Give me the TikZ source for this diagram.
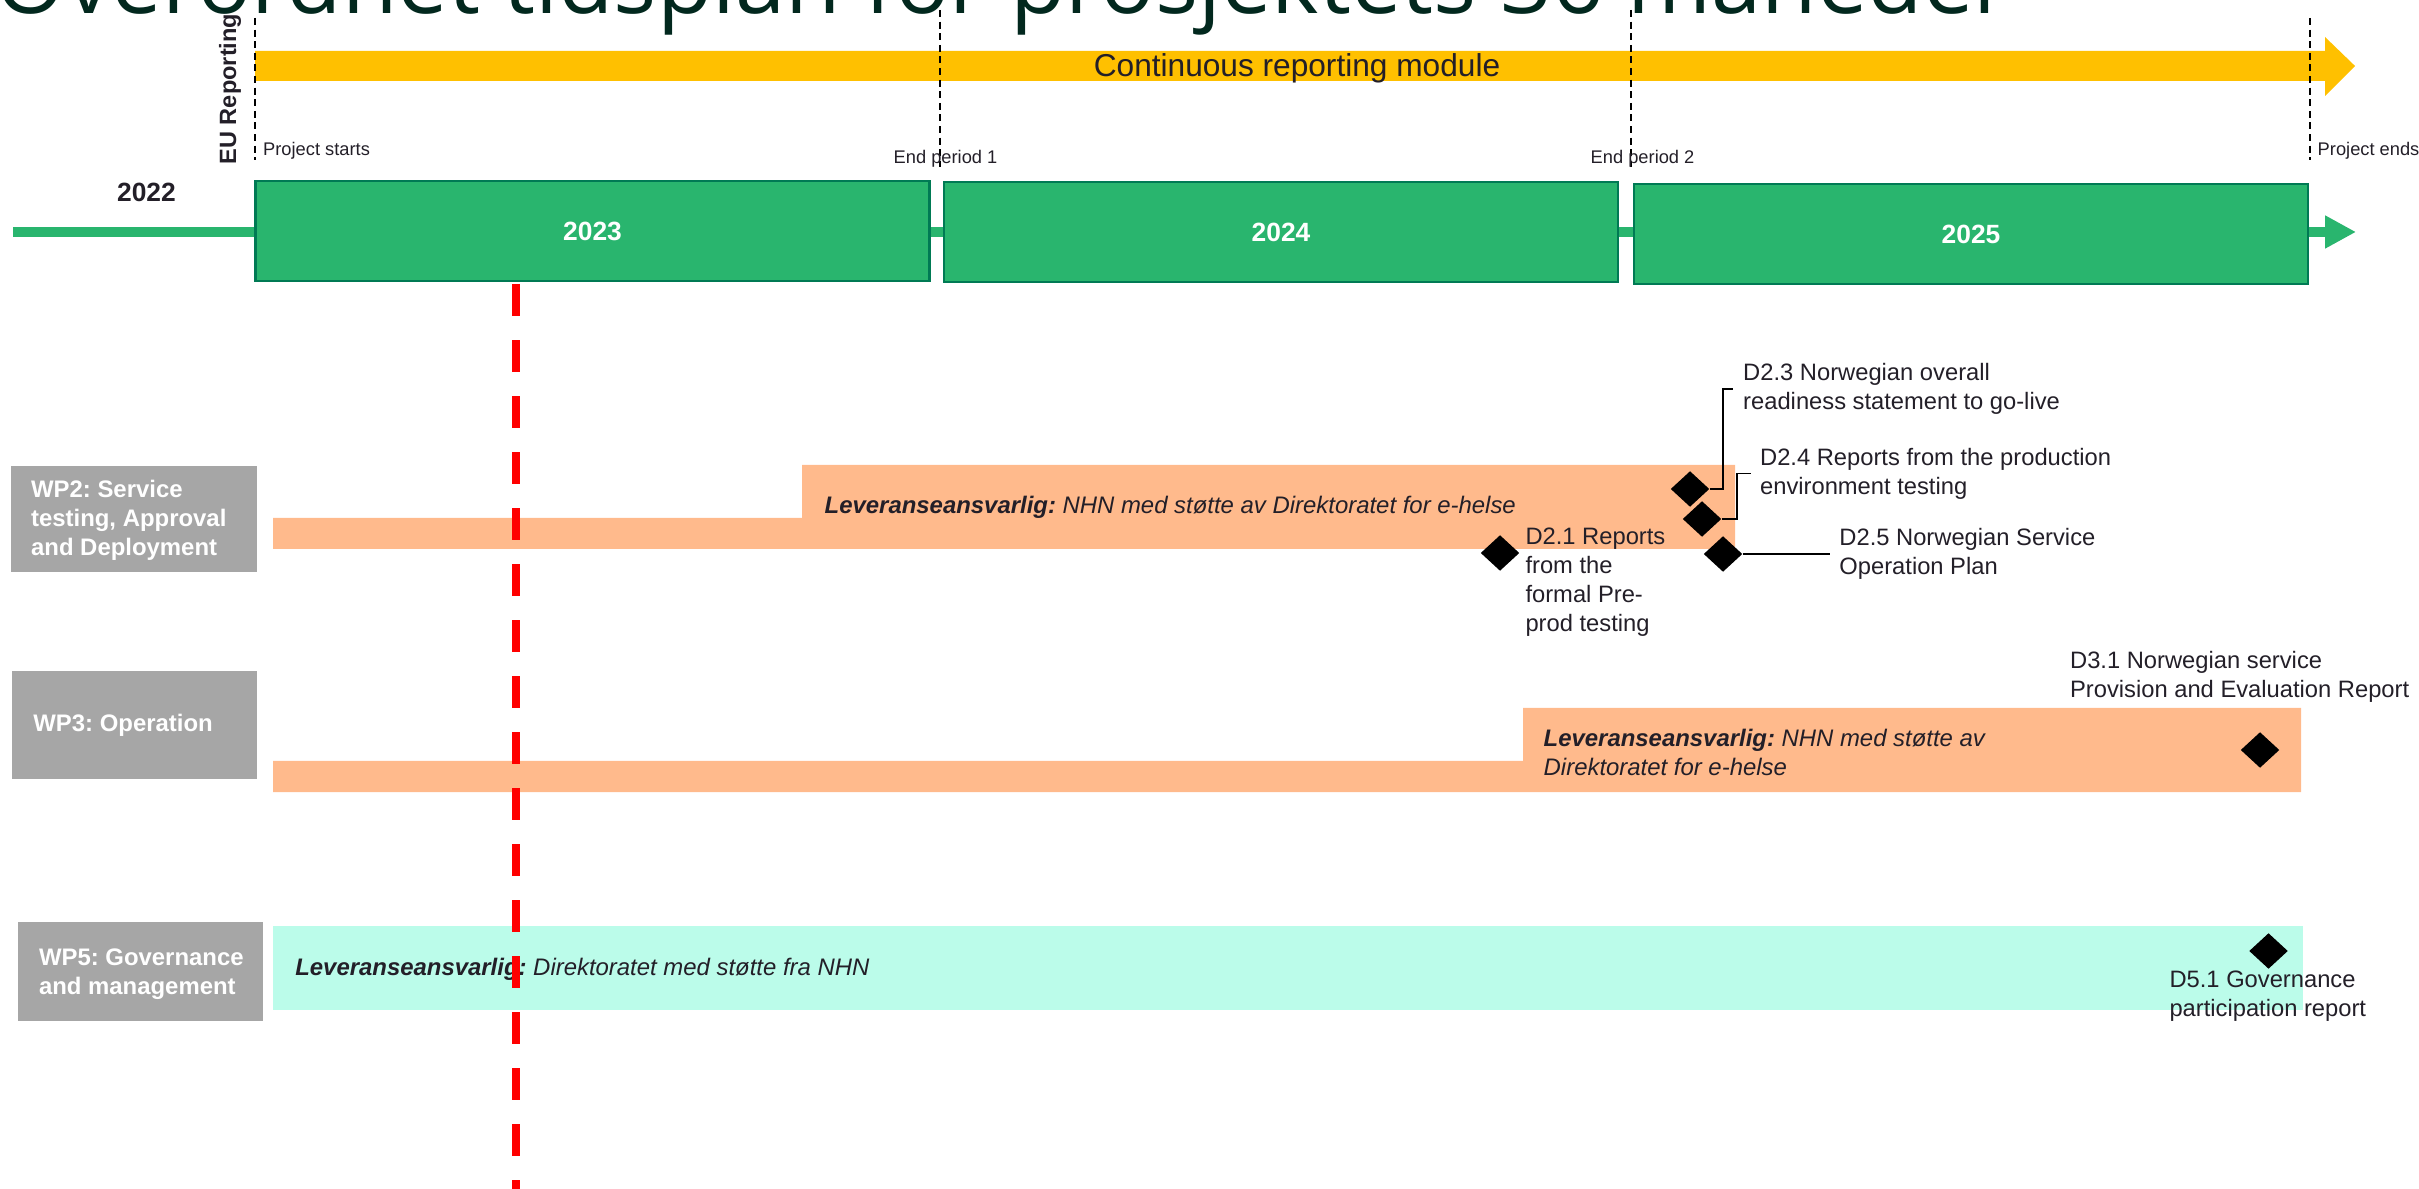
\documentclass[tikz,border=0pt]{standalone}
\usepackage{fontspec}
\setmainfont{Liberation Sans}
\newfontfamily\titlefont{Open Sans}
\usetikzlibrary{shapes.geometric,arrows.meta}
\definecolor{titlegreen}{RGB}{2,40,30}
\definecolor{txt}{RGB}{35,31,40}
\definecolor{yellowc}{RGB}{255,192,0}
\definecolor{greenfill}{RGB}{41,181,110}
\definecolor{greenborder}{RGB}{0,122,84}
\definecolor{wpgray}{RGB}{166,166,166}
\definecolor{orangebar}{RGB}{255,186,140}
\definecolor{cyanbar}{RGB}{187,252,234}
\definecolor{redline}{RGB}{255,0,0}
\frenchspacing
\begin{document}
\begin{tikzpicture}[x=0.01cm,y=-0.01cm,
  small/.style={inner sep=0, font=\fontsize{5.2}{6.2}\selectfont, text=txt, anchor=west},
  lbl/.style={inner sep=0, font=\fontsize{6.75}{8.25}\selectfont, text=txt, align=left, anchor=west},
  lev/.style={inner sep=0, font=\fontsize{6.8}{8.25}\selectfont\itshape, text=txt, align=left, anchor=west},
  wpbox/.style={fill=wpgray, inner sep=0, minimum width=2.45cm},
  wptext/.style={inner sep=0, font=\bfseries\fontsize{6.8}{8.25}\selectfont, text=white, align=left, anchor=west},
  yearbox/.style={draw=greenborder, line width=0.7pt, fill=greenfill, minimum width=6.74cm, minimum height=1.0cm, inner sep=0, text=white, font=\bfseries\fontsize{7.5}{9}\selectfont},
  milestone/.style={diamond, fill=black, inner sep=0, minimum width=0.39cm, minimum height=0.36cm},
  conn/.style={draw=black, line width=0.5pt},
  vdash/.style={draw=black, line width=0.45pt, dash pattern=on 2pt off 1.3pt},
  todayline/.style={draw=redline, line width=2.28pt, dash pattern=on 9.1pt off 6.83pt},
]
\clip (0,0) rectangle (2419,1189);

% title
\node[anchor=base west, inner sep=0, text=titlegreen, font=\titlefont\fontsize{25.7}{30}\selectfont] (title) at (-5,13.5) {Overordnet tidsplan for prosjektets 36 måneder};

% reporting arrow
\fill[yellowc] (255,51) -- (2325,51) -- (2325,37) -- (2355,66) -- (2325,96) -- (2325,81) -- (255,81) -- cycle;
\node[inner sep=0, text=txt, font=\fontsize{9}{11}\selectfont] (crm) at (1297,68) {Continuous reporting module};

% dashed period markers
\coordinate (ps1) at (255,18);   \coordinate (ps2) at (255,160);
\coordinate (e11) at (940,10);   \coordinate (e12) at (940,167);
\coordinate (e21) at (1631,10);  \coordinate (e22) at (1631,167);
\coordinate (pe1) at (2310,18);  \coordinate (pe2) at (2310,160);
\draw[vdash] (ps1) -- (ps2);
\draw[vdash] (e11) -- (e12);
\draw[vdash] (e21) -- (e22);
\draw[vdash] (pe1) -- (pe2);

\node[rotate=90, anchor=base west, inner sep=0, font=\bfseries\fontsize{6.7}{8}\selectfont, text=txt] (eu) at (236,165) {EU Reporting};
\node[small] (pstart) at (262.5,151) {Project starts};
\node[small] (ep1) at (893,158.5) {End period 1};
\node[small] (ep2) at (1590,158.5) {End period 2};
\node[small] (pend) at (2317,151) {Project ends};

% timeline
\coordinate (tlstart) at (13,232);
\coordinate (tlend) at (2356,232);
\draw[greenfill, line width=2.85pt, -{Triangle[length=3.1mm,width=3.1mm]}] (tlstart) -- (tlend);
\node[font=\bfseries\fontsize{7.5}{9}\selectfont, text=txt, inner sep=0] (y2022) at (146.5,192) {2022};
\node[yearbox] (y2023) at (592.5,231) {2023};
\node[yearbox] (y2024) at (1281,232) {2024};
\node[yearbox] (y2025) at (1971,234) {2025};

% WP2
\node[wpbox, minimum height=1.06cm] (wp2) at (134,519) {};
\node[wptext] (wp2t) at (30.4,520) {WP2: Service\\testing, Approval\\and Deployment};
\fill[orangebar] (273,518) -- (802,518) -- (802,465) -- (1735,465) -- (1735,549) -- (273,549) -- cycle;
\node[lev] (lev2) at (824,507.5) {\textbf{Leveranseansvarlig:} NHN med støtte av Direktoratet for e-helse};

% WP3
\node[wpbox, minimum height=1.08cm] (wp3) at (134.5,725) {};
\node[wptext] (wp3t) at (32.7,725) {WP3: Operation};
\fill[orangebar] (273,761) -- (1523,761) -- (1523,708) -- (2301,708) -- (2301,792) -- (273,792) -- cycle;
\node[lev] (lev3) at (1543,752) {\textbf{Leveranseansvarlig:} NHN med støtte av\\Direktoratet for e-helse};

% WP5
\node[wpbox, minimum height=0.99cm] (wp5) at (140.5,971.5) {};
\node[wptext] (wp5t) at (38.3,974) {WP5: Governance\\and management};
\fill[cyanbar] (273,926) rectangle (2303,1009.5);
\node[lev] (lev5) at (294.6,969.3) {\textbf{Leveranseansvarlig:} Direktoratet med støtte fra NHN};

% milestones
\node[milestone] (d21) at (1500,553) {};
\node[milestone] (d23) at (1690,489) {};
\node[milestone] (d24) at (1702,519) {};
\node[milestone] (d25) at (1723,554) {};
\node[milestone] (d31) at (2260,750) {};
\node[milestone] (d51) at (2268.5,951) {};

% milestone labels
\node[lbl] (t21) at (1524.8,582) {D2.1 Reports\\from the\\formal Pre-\\prod testing};
\node[lbl] (t23) at (1742.5,389) {D2.3 Norwegian overall\\readiness statement to go-live};
\node[lbl] (t24) at (1759.4,473.5) {D2.4 Reports from the production\\environment testing};
\node[lbl] (t25) at (1838.7,554) {D2.5 Norwegian Service\\Operation Plan};
\node[lbl] (t31) at (2069.4,677) {D3.1 Norwegian service\\Provision and Evaluation Report};
\node[lbl] (t51) at (2168.8,996) {D5.1 Governance\\participation report};

% connectors
\draw[conn] (d23.east) -- ++(13,0) |- ([xshift=-0.1cm]t23.west);
\draw[conn] (d24.east) -- ++(15,0) |- ([xshift=-0.08cm]t24.west);
\draw[conn] (d25.east) -- ([xshift=-0.09cm]t25.west);

% today line
\coordinate (now1) at (516,284);
\coordinate (now2) at (516,1189);
\draw[todayline] (now1) -- (now2);
\end{tikzpicture}
\end{document}
